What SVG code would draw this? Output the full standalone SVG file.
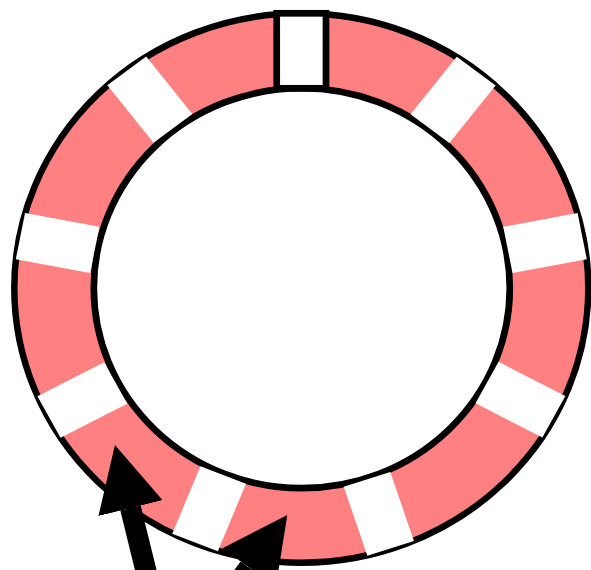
<svg xmlns="http://www.w3.org/2000/svg" width="591" height="570" viewBox="0 0 591 570">
  <style>
    .ring { fill: #ff8080; stroke: #000; stroke-width: 6.5; }
    .hole { fill: #fff; stroke: #000; stroke-width: 6.7; }
    .gap { fill: #fff; stroke: none; }
    .gapTop { fill: #fff; stroke: #000; stroke-width: 6.7; }
    .arrow { stroke: #000; stroke-width: 21; fill: none; }
  </style>
  <defs>
    <marker id="head" markerUnits="userSpaceOnUse" viewBox="0 0 66 66" markerWidth="66" markerHeight="66" refX="0" refY="33" orient="auto">
      <path d="M0,0 L65,33 L0,66 Z" fill="#000"/>
    </marker>
  </defs>
  <rect width="591" height="570" fill="#fff"/>
  <g id="ring">
    <ellipse class="ring" cx="301.3" cy="288" rx="287" ry="274.7"/>
    <ellipse class="hole" cx="301.8" cy="288.2" rx="208" ry="200"/>
    <g id="gaps" transform="translate(301.3 288) scale(1.044 1)">
      <rect class="gap" x="-23.5" y="-274" width="47" height="72.5" transform="rotate(37.7)"/>
      <rect class="gap" x="-23.5" y="-274" width="47" height="72.5" transform="rotate(79.1)"/>
      <rect class="gap" x="-23.5" y="-274" width="47" height="72.5" transform="rotate(118)"/>
      <rect class="gap" x="-23.5" y="-274" width="47" height="72.5" transform="rotate(161.8)"/>
      <rect class="gap" x="-23.5" y="-274" width="47" height="72.5" transform="rotate(201.8)"/>
      <rect class="gap" x="-23.5" y="-274" width="47" height="72.5" transform="rotate(241.9)"/>
      <rect class="gap" x="-23.5" y="-274" width="47" height="72.5" transform="rotate(280.9)"/>
      <rect class="gap" x="-23.5" y="-274" width="47" height="72.5" transform="rotate(322.4)"/>
    </g>
    <rect id="topGap" class="gapTop" x="276.7" y="13.3" width="49.3" height="75"/>
  </g>
  <g id="connectors">
    <line class="arrow" x1="159.2" y1="624.6" x2="130.5" y2="508.1" marker-end="url(#head)"/>
    <line class="arrow" x1="190.3" y1="648.5" x2="249.1" y2="567.6" marker-end="url(#head)"/>
  </g>
</svg>
